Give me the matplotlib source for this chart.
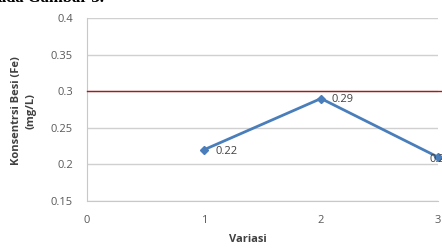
import matplotlib.pyplot as plt

# data
variasi = [1, 2, 3]
besi = [0.22, 0.29, 0.21]
labels = ["0.22", "0.29", "0.21"]
baku_mutu = 0.3
x_ticks = [0, 1, 2, 3]
y_ticks = [0.15, 0.2, 0.25, 0.3, 0.35, 0.4]

plt.rcParams['font.family'] = ['Open Sans', 'DejaVu Sans']

fig = plt.figure(figsize=(4.42, 2.48), dpi=100)
ax = fig.add_axes([87 / 442, 1 - 201 / 248, 351 / 442, 183 / 248])

ax.set_xlim(0, 3)
ax.set_ylim(0.15, 0.4)
ax.set_xticks(x_ticks)
ax.set_yticks(y_ticks)
ax.set_yticklabels([f"{v:g}" for v in y_ticks])
ax.tick_params(length=0, labelsize=8, colors='#595959', pad=10)
ax.tick_params(axis='x', pad=10)
ax.grid(axis='y', color='#d0d0d0', linewidth=1)
ax.set_axisbelow(True)
for s in ['top', 'right']:
    ax.spines[s].set_visible(False)
for s in ['left', 'bottom']:
    ax.spines[s].set_color('#c8c8c8')

# threshold line (runs to the edge of the picture)
ax.plot([0, 3.05], [baku_mutu, baku_mutu], color='#b01818', linewidth=1, clip_on=False, zorder=3)

ax.plot(variasi, besi, color='#4a7ebb', linewidth=2, marker='D', markersize=4.5,
        clip_on=False, zorder=4)
offsets = [(12, -2), (11, -1), (-8, -2)]
for xv, yv, lab, off in zip(variasi, besi, labels, offsets):
    ax.annotate(lab, (xv, yv), xytext=off, textcoords='offset pixels',
                fontsize=8, color='#404040', va='center', ha='left',
                annotation_clip=False, zorder=5)

fig.text(24 / 442, 1 - 111 / 248, "Konsentrsi Besi (Fe)\n(mg/L)", rotation=90,
         ha='center', va='center', fontsize=8, fontweight='bold', color='#404040',
         linespacing=1.45)
fig.text(248 / 442, 1 - 240 / 248, "Variasi", ha='center', va='center',
         fontsize=8, fontweight='bold', color='#404040')

# cropped caption line above the chart
fig.text(-2 / 442, 1 - 1.5 / 248, "ada Gambar 3.", ha='left', va='baseline',
         fontsize=12, fontweight='bold', family='Liberation Serif', color='black')

fig.savefig('out.png', dpi=100, facecolor='white')
